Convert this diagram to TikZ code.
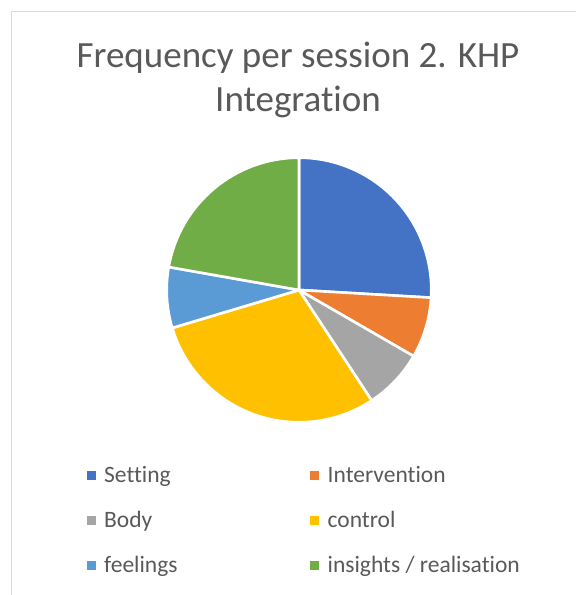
\documentclass[tikz,border=0pt]{standalone}
\usepackage{fontspec}
\setmainfont{Carlito}[Ligatures=NoCommon]
\usetikzlibrary{positioning}

\definecolor{setting}{HTML}{4472C4}
\definecolor{intervention}{HTML}{ED7D31}
\definecolor{body}{HTML}{A5A5A5}
\definecolor{control}{HTML}{FFC000}
\definecolor{feelings}{HTML}{5B9BD5}
\definecolor{insights}{HTML}{70AD47}
\definecolor{txtgray}{HTML}{595959}
\definecolor{framegray}{HTML}{D9D9D9}

\begin{document}
\begin{tikzpicture}[x=1pt,y=1pt,
    ttl/.style={anchor=base,inner sep=0pt,text=txtgray,font=\fontsize{37}{44}\selectfont},
    lbl/.style={anchor=base west,inner sep=0pt,text=txtgray,font=\fontsize{23.5}{28}\selectfont},
    key/.style={fill=#1,draw=none,minimum size=9pt,inner sep=0pt}]
  \useasboundingbox (0,0) rectangle (576,595);
  \draw[framegray,line width=1pt] (11,0) -- (11,583) -- (576,583);

  % title
  \node[ttl] (title1) at (298,527) {Frequency per session 2. KHP};
  \node[ttl] (title2) at (298,483) {Integration};

  % pie, 7/2/2/8/2/6 of 27
  \coordinate (c) at (299,305);
  \begin{scope}[draw=white,line width=2.6pt]
    \foreach \a/\b/\col in {90/-3.33/setting, -3.33/-30/intervention,
        -30/-56.67/body, -56.67/-163.33/control,
        -163.33/-190/feelings, -190/-270/insights}
      \filldraw[fill=\col] (c) -- ++(\a:132.3) arc[start angle=\a,end angle=\b,radius=132.3] -- cycle;
  \end{scope}

  % legend
  \node[key=setting]      (ksetting)      at (91,119) {};
  \node[key=intervention] (kintervention) at (314.5,119) {};
  \node[key=body]         (kbody)         at (91,74) {};
  \node[key=control]      (kcontrol)      at (314.5,74) {};
  \node[key=feelings]     (kfeelings)     at (91,29) {};
  \node[key=insights]     (kinsights)     at (314.5,29) {};
  \node[lbl] (lsetting)      at (104,112) {Setting};
  \node[lbl] (lintervention) at (327.5,112) {Intervention};
  \node[lbl] (lbody)         at (104,67) {Body};
  \node[lbl] (lcontrol)      at (327.5,67) {control};
  \node[lbl] (lfeelings)     at (104,22) {feelings};
  \node[lbl] (linsights)     at (327.5,22) {insights / realisation};
\end{tikzpicture}
\end{document}
